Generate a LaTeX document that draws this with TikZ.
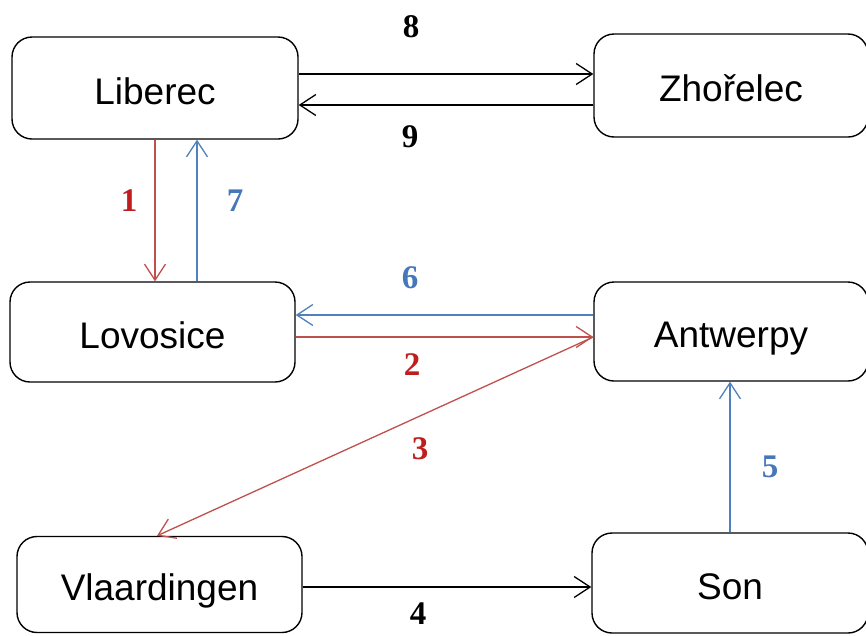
\documentclass[tikz,border=0pt]{standalone}
\usepackage{fontspec}
\setmainfont{Liberation Serif}
\newfontfamily\boxfont{Liberation Sans}
\usetikzlibrary{arrows.meta}
\definecolor{lred}{RGB}{192,80,77}
\definecolor{lblue}{RGB}{79,129,189}
\definecolor{tred}{RGB}{192,30,30}
\definecolor{tblue}{RGB}{70,120,185}
\tikzset{
  city/.style={draw=black, line width=1.4pt, fill=white, rounded corners=20pt,
    minimum height=100pt, inner sep=0pt, text height=32pt, text depth=0pt,
    font=\boxfont\fontsize{37pt}{40pt}\selectfont},
  conn/.style={line width=1.3pt, -{Straight Barb[length=16pt,width=21pt,line width=1.3pt]}},
  num/.style={font=\bfseries\fontsize{33pt}{35pt}\selectfont, inner sep=0pt}
}
\begin{document}
\begin{tikzpicture}[x=1pt,y=-1pt]
\useasboundingbox (0,0) rectangle (866,635);
\fill[white] (0,0) rectangle (866,635);
% boxes
\node[city, minimum width=286pt, minimum height=102pt] (liberec) at (155,88) {Liberec};
\node[city, minimum width=274pt, minimum height=103pt] (zhorelec) at (731,85.5) {Zhořelec};
\node[city, minimum width=285pt] (lovosice) at (152.5,332) {Lovosice};
\node[city, minimum width=274pt, minimum height=99pt] (antwerpy) at (731,331.5) {Antwerpy};
\node[city, minimum width=285pt, minimum height=96pt] (vlaardingen) at (159.5,584.5) {Vlaardingen};
\node[city, minimum width=276pt] (son) at (730,583) {Son};
% connectors
\draw[conn, black] (liberec.east |- 0,74) -- (zhorelec.west |- 0,74);
\draw[conn, black] (zhorelec.west |- 0,105) -- (liberec.east |- 0,105);
\draw[conn, lred] (liberec.south -| 155,0) -- (lovosice.north -| 155,0);
\draw[conn, lblue] (lovosice.north -| 197,0) -- (liberec.south -| 197,0);
\draw[conn, lblue] (antwerpy.west |- 0,315) -- (lovosice.east |- 0,315);
\draw[conn, lred] (lovosice.east |- 0,337) -- (antwerpy.west |- 0,337);
\draw[conn, lred] (antwerpy.west |- 0,337) -- (vlaardingen.north -| 157,0);
\draw[conn, black] (vlaardingen.east |- 0,587) -- (son.west |- 0,587);
\draw[conn, lblue] (son.north -| 730,0) -- (antwerpy.south -| 730,0);
% labels
\node[num] (n8) at (411,27) {8};
\node[num] (n9) at (410,137) {9};
\node[num, text=tred] (n1) at (129,201) {1};
\node[num, text=tblue] (n7) at (235,201) {7};
\node[num, text=tblue] (n6) at (410,278) {6};
\node[num, text=tred] (n2) at (412,365) {2};
\node[num, text=tred] (n3) at (420,449) {3};
\node[num] (n4) at (418,614) {4};
\node[num, text=tblue] (n5) at (770,467) {5};
\end{tikzpicture}
\end{document}
